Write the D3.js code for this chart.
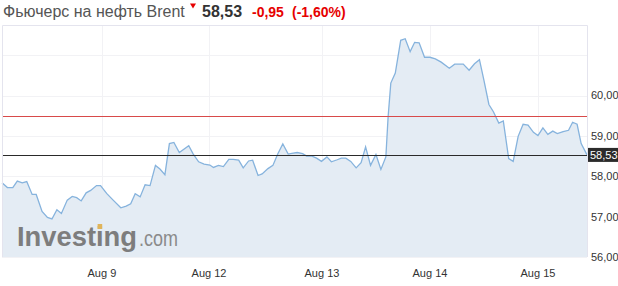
<!DOCTYPE html>
<html lang="ru">
  <head>
    <meta charset="utf-8">
    <title>Brent</title>
    <script src="https://cdn.jsdelivr.net/npm/d3@7/dist/d3.min.js"></script>
    <style>
      body { margin: 0; background: #fff; }
      text { font-family: "Liberation Sans", Arial, sans-serif; }
    </style>
  </head>
  <body>
    <div id="chart"></div>
    <script>
      // hours from the left edge of the chart
      let times = [0, 1.2, 2.4, 3.4, 4.5, 5.5, 6.7, 7.6, 8.9, 10.1,
                   11.1, 12.2, 13.2, 14.5, 15.6, 16.6, 17.6, 18.7, 19.7, 21.0,
                   21.9, 23.3, 24.7, 26.4, 27.6, 28.6, 29.6, 30.7, 31.8, 32.9,
                   34.1, 35.1, 36.2, 37.2, 38.2, 39.4, 41.5, 42.5, 43.7, 44.9,
                   46.2, 47.0, 48.1, 49.2, 50.4, 51.4, 52.6, 53.6, 54.8, 55.7,
                   56.9, 57.8, 59.1, 60.2, 61.3, 62.4, 63.6, 64.4, 65.6, 66.8,
                   67.7, 68.9, 69.9, 71.0, 72.2, 73.2, 74.5, 75.4, 76.4, 77.5,
                   78.7, 79.8, 80.8, 81.9, 83.1, 84.2, 85.3, 85.8, 86.4, 87.4,
                   88.6, 89.6, 90.7, 91.7, 92.7, 93.9, 95.1, 96.3, 97.6, 99.4,
                   100.6, 102.5, 103.8, 105.0, 106.1, 107.1, 108.2, 109.2, 110.4, 111.4,
                   112.6, 113.6, 114.7, 115.8, 116.9, 118.1, 119.1, 120.2, 121.3, 122.4,
                   123.4, 124.7, 125.9, 126.8, 127.8, 128.7, 130];

      let prices = [57.84, 57.72, 57.72, 57.88, 57.84, 57.87, 57.55, 57.55, 57.13, 56.98,
                    56.94, 57.17, 57.08, 57.41, 57.50, 57.47, 57.39, 57.59, 57.65, 57.77,
                    57.77, 57.57, 57.41, 57.22, 57.26, 57.32, 57.57, 57.49, 57.79, 57.77,
                    58.27, 58.18, 58.04, 58.81, 58.84, 58.59, 58.76, 58.55, 58.36, 58.30,
                    58.28, 58.22, 58.27, 58.24, 58.42, 58.42, 58.40, 58.21, 58.38, 58.40,
                    58.02, 58.06, 58.19, 58.27, 58.56, 58.80, 58.55, 58.57, 58.59, 58.56,
                    58.50, 58.50, 58.45, 58.37, 58.48, 58.36, 58.41, 58.45, 58.45, 58.37,
                    58.21, 58.34, 58.73, 58.27, 58.54, 58.17, 58.48, 59.47, 60.31, 60.56,
                    61.37, 61.41, 61.09, 61.32, 61.31, 60.95, 60.95, 60.91, 60.83, 60.68,
                    60.78, 60.78, 60.63, 60.79, 60.89, 60.38, 59.78, 59.60, 59.32, 59.37,
                    58.44, 58.37, 58.99, 59.29, 59.27, 59.09, 59.01, 59.20, 59.04, 59.12,
                    59.06, 59.11, 59.14, 59.34, 59.29, 58.81, 58.53];

      let dayTicks = [22.2, 46, 71.1, 95.1, 119.1];
      let dayLabels = ["Aug 9", "Aug 12", "Aug 13", "Aug 14", "Aug 15"];

      let priceTicks = [56, 57, 58, 59, 60];
      let gridLevels = [56, 57, 58, 59, 60, 61];

      let lastPrice = 58.53;
      let redLevel = 59.49;

      let title = "Фьючерс на нефть Brent";
      let change = "-0,95";
      let changePct = "(-1,60%)";

      function BrentChart() {
          let svgWidth = 618, svgHeight = 286;
          let left = 2, right = 587, top = 25, bottom = 257;

          let svg = d3.select("#chart")
              .append("svg")
              .attr("width", svgWidth)
              .attr("height", svgHeight);

          let fmt = v => d3.format(".2f")(v).replace(".", ",");

          let x = d3.scaleLinear()
              .domain([0, 130])
              .range([left, right]);

          let y = d3.scaleLinear()
              .domain([56, 56 + (bottom - top) / 40.35])
              .range([bottom, top]);

          let data = times.map((t, i) => ({t: t, v: prices[i]}));

          // header
          let head = svg.append("g");
          head.append("text")
              .attr("x", 3).attr("y", 17)
              .attr("font-size", 16)
              .attr("fill", "#555")
              .text(title);
          head.append("path")
              .attr("d", "M190,3.5 L196,3.5 L193,8.5 Z")
              .attr("fill", "#e60000");
          head.append("text")
              .attr("x", 202).attr("y", 17)
              .attr("font-size", 16)
              .attr("font-weight", "bold")
              .attr("fill", "#333")
              .text(fmt(lastPrice));
          head.append("text")
              .attr("x", 252).attr("y", 17)
              .attr("font-size", 14)
              .attr("font-weight", "bold")
              .attr("fill", "#e60000")
              .text(change);
          head.append("text")
              .attr("x", 292).attr("y", 17)
              .attr("font-size", 14)
              .attr("font-weight", "bold")
              .attr("fill", "#e60000")
              .text(changePct);

          // grid
          svg.append("g")
              .selectAll("line")
              .data(gridLevels)
              .enter().append("line")
              .attr("x1", left).attr("x2", right)
              .attr("y1", d => Math.round(y(d)) + 0.5)
              .attr("y2", d => Math.round(y(d)) + 0.5)
              .attr("stroke", "#f2f2f5");

          svg.append("g")
              .selectAll("line")
              .data(dayTicks)
              .enter().append("line")
              .attr("x1", d => Math.round(x(d)) + 0.5)
              .attr("x2", d => Math.round(x(d)) + 0.5)
              .attr("y1", top).attr("y2", bottom)
              .attr("stroke", "#f2f2f5");

          // area + line
          let area = d3.area()
              .x(d => x(d.t))
              .y0(y(56))
              .y1(d => y(d.v));

          let line = d3.line()
              .x(d => x(d.t))
              .y(d => y(d.v));

          svg.append("path")
              .datum(data)
              .attr("fill", "#e4ecf4")
              .attr("d", area);

          // watermark
          let logo = svg.append("g").attr("class", "logo");
          let word = logo.append("text")
              .attr("x", 17).attr("y", 246)
              .attr("font-size", 28)
              .attr("font-weight", "bold")
              .attr("fill", "#7d7d7d")
              .attr("textLength", 120)
              .attr("lengthAdjust", "spacingAndGlyphs")
              .text("Investing");
          logo.append("text")
              .attr("x", 139).attr("y", 246)
              .attr("font-size", 22)
              .attr("fill", "#8a8a8a")
              .attr("textLength", 39)
              .attr("lengthAdjust", "spacingAndGlyphs")
              .text(".com");
          let box = word.node().getExtentOfChar(6);
          logo.append("rect")
              .attr("x", box.x + box.width / 2 - 2.2)
              .attr("y", 224)
              .attr("width", 4.6)
              .attr("height", 5)
              .attr("fill", "#e0b45a");

          svg.append("path")
              .datum(data)
              .attr("fill", "none")
              .attr("stroke", "#86b3dd")
              .attr("stroke-width", 1.3)
              .attr("d", line);

          // levels
          svg.append("line")
              .attr("x1", left).attr("x2", right)
              .attr("y1", Math.round(y(redLevel)) + 0.5)
              .attr("y2", Math.round(y(redLevel)) + 0.5)
              .attr("stroke", "#d84a4a");
          svg.append("line")
              .attr("x1", left).attr("x2", right)
              .attr("y1", Math.round(y(lastPrice)) + 0.5)
              .attr("y2", Math.round(y(lastPrice)) + 0.5)
              .attr("stroke", "#2a2a2a");

          // frame
          svg.append("path")
              .attr("d", `M${left + 0.5},${bottom} V${top + 0.5} H${right + 0.5} V${bottom}`)
              .attr("fill", "none")
              .attr("stroke", "#e4e4ee");

          // y axis labels
          svg.append("g")
              .selectAll("text")
              .data(priceTicks)
              .enter().append("text")
              .attr("x", 591)
              .attr("y", d => y(d))
              .attr("dy", "0.35em")
              .attr("font-size", 11)
              .attr("fill", "#333")
              .text(d => fmt(d));

          // last price tag
          svg.append("rect")
              .attr("x", 588).attr("y", y(lastPrice) - 7)
              .attr("width", 30).attr("height", 14)
              .attr("fill", "#2b2b2b");
          svg.append("text")
              .attr("x", 590).attr("y", y(lastPrice))
              .attr("dy", "0.35em")
              .attr("font-size", 11)
              .attr("fill", "#fff")
              .text(fmt(lastPrice));

          // x axis labels
          svg.append("g")
              .selectAll("text")
              .data(dayTicks)
              .enter().append("text")
              .attr("x", d => x(d))
              .attr("y", 277)
              .attr("text-anchor", "middle")
              .attr("font-size", 11)
              .attr("fill", "#333")
              .text((d, i) => dayLabels[i]);
      }

      BrentChart();
    </script>
  </body>
</html>
